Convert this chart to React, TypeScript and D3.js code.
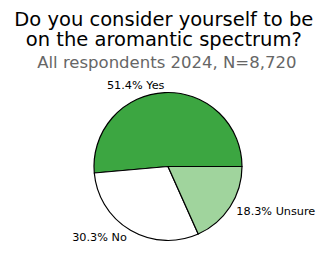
import React from "react";
import * as d3 from "d3";

const categories = ["Yes", "No", "Unsure"];
const values = [51.4, 30.3, 18.3];
const colors = ["#3ca641", "#ffffff", "#a0d49d"];

const W = 327, H = 269;
const cx = 168, cy = 166.5, R = 74;

export default function App() {
  const total = d3.sum(values);
  const starts: number[] = [];
  let acc = 0;
  values.forEach((v) => { starts.push(acc); acc += v; });
  const arc = d3.arc<any>().innerRadius(0).outerRadius(R);
  const slices = values.map((v, i) => {
    const t0 = (starts[i] / total) * 2 * Math.PI;
    const t1 = ((starts[i] + v) / total) * 2 * Math.PI;
    const tm = (t0 + t1) / 2;
    return {
      path: arc({ startAngle: Math.PI / 2 - t1, endAngle: Math.PI / 2 - t0 }) as string,
      lx: 1.1 * R * Math.cos(tm),
      ly: -1.1 * R * Math.sin(tm),
      label: `${v.toFixed(1)}% ${categories[i]}`,
      color: colors[i],
    };
  });
  return (
    <svg width={W} height={H} style={{ position: "absolute", left: 0, top: 0 }} fontFamily="DejaVu Sans">
      <rect width={W} height={H} fill="#fff" />
      <text x={163.8} y={25.5} textAnchor="middle" fontSize={19.5} fill="#000">Do you consider yourself to be</text>
      <text x={163.8} y={46} textAnchor="middle" fontSize={19.5} fill="#000">on the aromantic spectrum?</text>
      <text x={166.8} y={68.3} textAnchor="middle" fontSize={16.5} fill="#666">All respondents 2024, N=8,720</text>
      <g transform={`translate(${cx},${cy})`}>
        {slices.map((s, i) => (
          <path key={i} d={s.path} fill={s.color} stroke="#000" strokeWidth={1.2} strokeLinejoin="round" />
        ))}
        {slices.map((s, i) => (
          <text key={"t" + i} x={s.lx} y={s.ly} dy="0.35em" textAnchor={s.lx < 0 ? "end" : "start"} fontSize={11.25} fill="#000">
            {s.label}
          </text>
        ))}
      </g>
    </svg>
  );
}
